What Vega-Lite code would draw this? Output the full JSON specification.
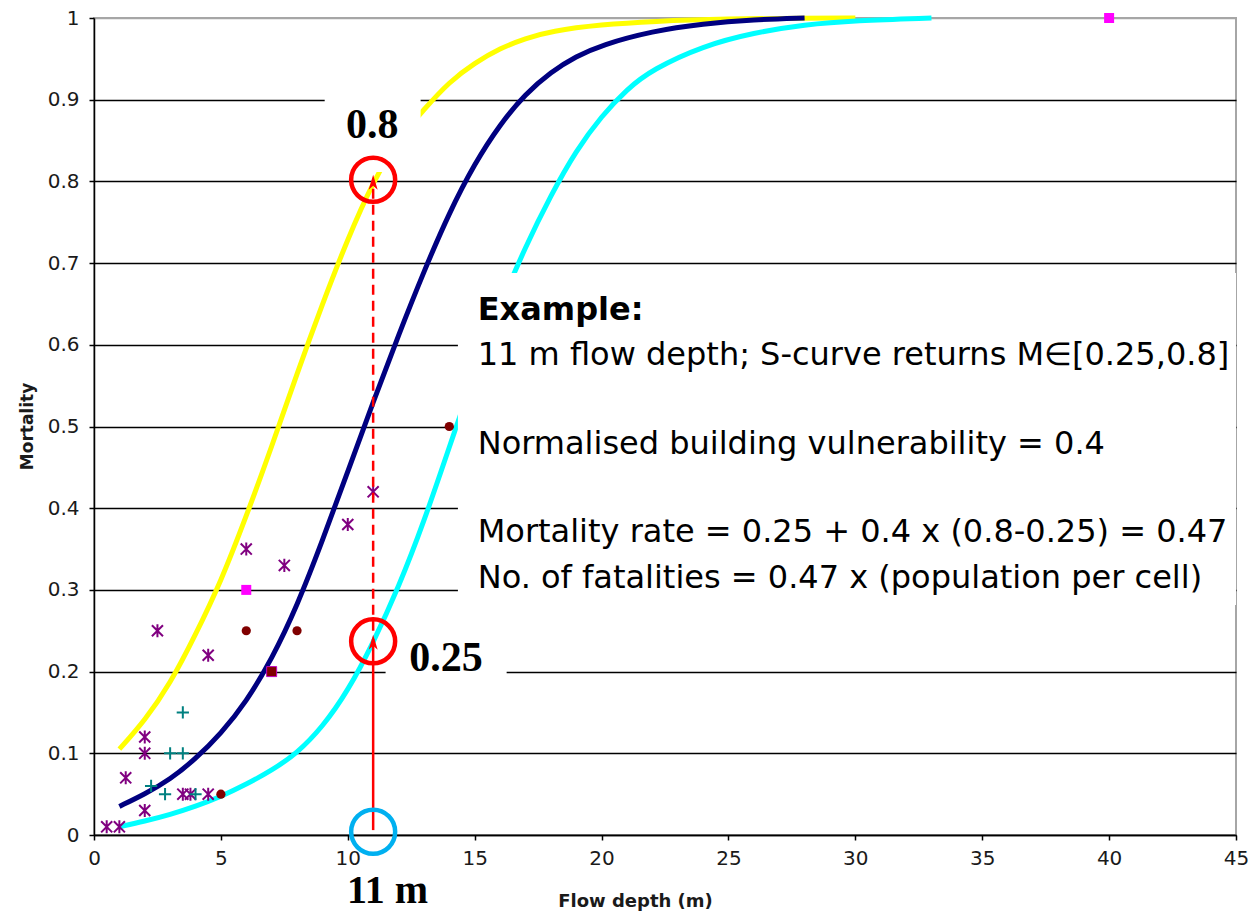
{
  "$schema": "https://vega.github.io/schema/vega-lite/v6.json",
  "width": 1142,
  "height": 817,
  "autosize": "none",
  "padding": {"left": 94, "top": 18, "right": 20, "bottom": 80},
  "background": "white",
  "config": {"view": {"stroke": "#a6a6a6", "strokeWidth": 2}},
  "datasets": {
    "curves": [
      {"series": "yellow", "x": 1, "y": 0.105}, {"series": "yellow", "x": 2, "y": 0.14}, {"series": "yellow", "x": 3, "y": 0.185},
      {"series": "yellow", "x": 4, "y": 0.245}, {"series": "yellow", "x": 5, "y": 0.31}, {"series": "yellow", "x": 6, "y": 0.39},
      {"series": "yellow", "x": 7, "y": 0.475}, {"series": "yellow", "x": 8, "y": 0.565}, {"series": "yellow", "x": 9, "y": 0.65},
      {"series": "yellow", "x": 10, "y": 0.73}, {"series": "yellow", "x": 11, "y": 0.8}, {"series": "yellow", "x": 12, "y": 0.852},
      {"series": "yellow", "x": 13, "y": 0.888}, {"series": "yellow", "x": 14, "y": 0.922}, {"series": "yellow", "x": 15, "y": 0.945},
      {"series": "yellow", "x": 16, "y": 0.963}, {"series": "yellow", "x": 17, "y": 0.975}, {"series": "yellow", "x": 18, "y": 0.984},
      {"series": "yellow", "x": 20, "y": 0.992}, {"series": "yellow", "x": 22, "y": 0.996}, {"series": "yellow", "x": 25, "y": 0.999},
      {"series": "yellow", "x": 28, "y": 1.0}, {"series": "yellow", "x": 30, "y": 1.0},
      {"series": "navy", "x": 1, "y": 0.035}, {"series": "navy", "x": 2, "y": 0.05}, {"series": "navy", "x": 3, "y": 0.068},
      {"series": "navy", "x": 4, "y": 0.093}, {"series": "navy", "x": 5, "y": 0.124}, {"series": "navy", "x": 6, "y": 0.163},
      {"series": "navy", "x": 7, "y": 0.215}, {"series": "navy", "x": 8, "y": 0.28}, {"series": "navy", "x": 9, "y": 0.36},
      {"series": "navy", "x": 10, "y": 0.445}, {"series": "navy", "x": 11, "y": 0.53}, {"series": "navy", "x": 12, "y": 0.612},
      {"series": "navy", "x": 13, "y": 0.69}, {"series": "navy", "x": 14, "y": 0.762}, {"series": "navy", "x": 15, "y": 0.822},
      {"series": "navy", "x": 16, "y": 0.87}, {"series": "navy", "x": 17, "y": 0.907}, {"series": "navy", "x": 18, "y": 0.934},
      {"series": "navy", "x": 19, "y": 0.953}, {"series": "navy", "x": 20, "y": 0.967}, {"series": "navy", "x": 22, "y": 0.984},
      {"series": "navy", "x": 24, "y": 0.993}, {"series": "navy", "x": 26, "y": 0.998}, {"series": "navy", "x": 28, "y": 1.0},
      {"series": "cyan", "x": 1, "y": 0.01}, {"series": "cyan", "x": 2, "y": 0.017}, {"series": "cyan", "x": 3, "y": 0.025},
      {"series": "cyan", "x": 4, "y": 0.035}, {"series": "cyan", "x": 5, "y": 0.047}, {"series": "cyan", "x": 6, "y": 0.062},
      {"series": "cyan", "x": 7, "y": 0.079}, {"series": "cyan", "x": 8, "y": 0.1}, {"series": "cyan", "x": 9, "y": 0.132},
      {"series": "cyan", "x": 10, "y": 0.176}, {"series": "cyan", "x": 11, "y": 0.235}, {"series": "cyan", "x": 12, "y": 0.303},
      {"series": "cyan", "x": 13, "y": 0.383}, {"series": "cyan", "x": 14, "y": 0.475}, {"series": "cyan", "x": 15, "y": 0.565},
      {"series": "cyan", "x": 16, "y": 0.648}, {"series": "cyan", "x": 17, "y": 0.72}, {"series": "cyan", "x": 18, "y": 0.783},
      {"series": "cyan", "x": 19, "y": 0.838}, {"series": "cyan", "x": 20, "y": 0.88}, {"series": "cyan", "x": 21, "y": 0.913},
      {"series": "cyan", "x": 22, "y": 0.937}, {"series": "cyan", "x": 24, "y": 0.966}, {"series": "cyan", "x": 26, "y": 0.982},
      {"series": "cyan", "x": 28, "y": 0.992}, {"series": "cyan", "x": 30, "y": 0.997}, {"series": "cyan", "x": 33, "y": 1.0}
    ],
    "points": [
      {"type": "star", "x": 0.5, "y": 0.01}, {"type": "star", "x": 1, "y": 0.01}, {"type": "star", "x": 1.25, "y": 0.07},
      {"type": "star", "x": 2, "y": 0.03}, {"type": "star", "x": 2, "y": 0.1}, {"type": "star", "x": 2, "y": 0.12},
      {"type": "star", "x": 2.5, "y": 0.25}, {"type": "star", "x": 3.5, "y": 0.05}, {"type": "star", "x": 3.8, "y": 0.05},
      {"type": "star", "x": 4.5, "y": 0.05}, {"type": "star", "x": 4.5, "y": 0.22}, {"type": "star", "x": 6, "y": 0.35},
      {"type": "star", "x": 7.5, "y": 0.33}, {"type": "star", "x": 10, "y": 0.38}, {"type": "star", "x": 11, "y": 0.42},
      {"type": "plus", "x": 2.25, "y": 0.06}, {"type": "plus", "x": 2.8, "y": 0.05}, {"type": "plus", "x": 3, "y": 0.1},
      {"type": "plus", "x": 3.5, "y": 0.1}, {"type": "plus", "x": 3.5, "y": 0.15}, {"type": "plus", "x": 4, "y": 0.05},
      {"type": "dot", "x": 5, "y": 0.05}, {"type": "dot", "x": 6, "y": 0.25}, {"type": "dot", "x": 8, "y": 0.25},
      {"type": "dot", "x": 14, "y": 0.5},
      {"type": "darksquare", "x": 7, "y": 0.2},
      {"type": "magenta", "x": 6, "y": 0.3}, {"type": "magenta", "x": 40, "y": 1.0}
    ],
    "boxes": [
      {"x": 9.09, "x2": 12.87, "y": 0.8115, "y2": 0.92},
      {"x": 11.49, "x2": 16.26, "y": 0.171, "y2": 0.248},
      {"x": 14.34, "x2": 45, "y": 0.2815, "y2": 0.688}
    ],
    "rings": [
      {"ring": "red", "x": 11, "y": 0.802},
      {"ring": "red", "x": 11, "y": 0.237},
      {"ring": "blue", "x": 11, "y": 0.004}
    ],
    "arrows": [
      {"x": 11, "y": 0.245},
      {"x": 11, "y": 0.808}
    ]
  },
  "encoding": {
    "x": {
      "field": "x", "type": "quantitative",
      "scale": {"domain": [0, 45], "nice": false, "zero": false},
      "axis": {
        "title": "Flow depth (m)",
        "values": [0, 5, 10, 15, 20, 25, 30, 35, 40, 45],
        "format": "d",
        "grid": false,
        "domainColor": "#000000", "domainWidth": 1.5,
        "tickColor": "#000000", "tickSize": 5, "tickWidth": 1.5,
        "labelFont": "DejaVu Sans", "labelFontSize": 20, "labelColor": "#1a1a1a", "labelPadding": 8,
        "labelFlush": false,
        "titleFont": "DejaVu Sans", "titleFontSize": 18, "titleFontWeight": "bold", "titleColor": "#1a1a1a",
        "titleX": 541, "titleY": 66, "titleAlign": "center", "titleBaseline": "middle"
      }
    },
    "y": {
      "field": "y", "type": "quantitative",
      "scale": {"domain": [0, 1], "nice": false, "zero": false},
      "axis": {
        "title": "Mortality",
        "values": [0, 0.1, 0.2, 0.3, 0.4, 0.5, 0.6, 0.7, 0.8, 0.9, 1],
        "format": "~g",
        "grid": true,
        "gridColor": {"condition": {"test": "datum.value === 1", "value": "#a6a6a6"}, "value": "#000000"},
        "gridWidth": 1.5,
        "domainColor": "#000000", "domainWidth": 1.5,
        "tickColor": "#000000", "tickSize": 5, "tickWidth": 1.5,
        "labelFont": "DejaVu Sans", "labelFontSize": 20, "labelColor": "#1a1a1a", "labelPadding": 10,
        "labelFlush": false,
        "titleFont": "DejaVu Sans", "titleFontSize": 17, "titleFontWeight": "bold", "titleColor": "#1a1a1a",
        "titleX": -67, "titleY": 408, "titleAngle": -90, "titleAlign": "center", "titleBaseline": "middle"
      }
    }
  },
  "layer": [
    {
      "data": {"name": "curves"},
      "mark": {"type": "line", "strokeWidth": 5, "interpolate": "basis"},
      "encoding": {
        "color": {"field": "series", "type": "nominal", "legend": null,
          "scale": {"domain": ["yellow", "navy", "cyan"], "range": ["#ffff00", "#000080", "#00ffff"]}}
      }
    },
    {
      "data": {"name": "points"},
      "transform": [{"filter": "datum.type === 'star'"}],
      "mark": {"type": "point", "shape": "M0,-1L0,1M-0.85,-0.85L0.85,0.85M-0.85,0.85L0.85,-0.85", "filled": false, "stroke": "#800080", "strokeWidth": 2, "size": 170, "opacity": 1}
    },
    {
      "data": {"name": "points"},
      "transform": [{"filter": "datum.type === 'plus'"}],
      "mark": {"type": "point", "shape": "M-1,0L1,0M0,-1L0,1", "filled": false, "stroke": "#008080", "strokeWidth": 2, "size": 150, "opacity": 1}
    },
    {
      "data": {"name": "points"},
      "transform": [{"filter": "datum.type === 'dot'"}],
      "mark": {"type": "point", "shape": "circle", "filled": true, "color": "#800000", "size": 85, "opacity": 1}
    },
    {
      "data": {"name": "points"},
      "transform": [{"filter": "datum.type === 'darksquare'"}],
      "mark": {"type": "point", "shape": "square", "filled": true, "fill": "#800000", "stroke": "#c000c0", "strokeWidth": 1, "size": 100, "opacity": 1}
    },
    {
      "data": {"name": "points"},
      "transform": [{"filter": "datum.type === 'magenta'"}],
      "mark": {"type": "point", "shape": "square", "filled": true, "color": "#ff00ff", "size": 100, "opacity": 1}
    },
    {
      "data": {"name": "boxes"},
      "mark": {"type": "rect", "color": "#ffffff", "strokeWidth": 0},
      "encoding": {"x2": {"field": "x2"}, "y2": {"field": "y2"}}
    },
    {
      "data": {"values": [{"x": 11, "y": 0.006, "y2": 0.24}]},
      "mark": {"type": "rule", "color": "#ff0000", "strokeWidth": 2.5},
      "encoding": {"y2": {"field": "y2"}}
    },
    {
      "data": {"values": [{"x": 11, "y": 0.25, "y2": 0.8}]},
      "mark": {"type": "rule", "color": "#ff0000", "strokeWidth": 2.5, "strokeDash": [10, 6]},
      "encoding": {"y2": {"field": "y2"}}
    },
    {
      "data": {"name": "arrows"},
      "mark": {"type": "point", "shape": "M0,0L0.9,3L0,2.2L-0.9,3Z", "filled": true, "color": "#ff0000", "size": 100, "opacity": 1}
    },
    {
      "data": {"name": "rings"},
      "mark": {"type": "point", "shape": "circle", "filled": false, "strokeWidth": 4.5, "size": 1936, "opacity": 1},
      "encoding": {
        "stroke": {"field": "ring", "type": "nominal", "legend": null,
          "scale": {"domain": ["red", "blue"], "range": ["#ff0000", "#00b0f0"]}}
      }
    },
    {
      "data": {"values": [
        {"x": 10.96, "y": 0.869, "label": "0.8"},
        {"x": 13.87, "y": 0.2167, "label": "0.25"}
      ]},
      "mark": {"type": "text", "font": "Liberation Serif", "fontWeight": "bold", "fontSize": 42, "align": "center", "baseline": "middle", "color": "#000000"},
      "encoding": {"text": {"field": "label"}}
    },
    {
      "data": {"values": [
        {"x": 11.57, "y": -0.0685, "label": "11 m"}
      ]},
      "mark": {"type": "text", "font": "Liberation Serif", "fontWeight": "bold", "fontSize": 40, "align": "center", "baseline": "middle", "color": "#000000"},
      "encoding": {"text": {"field": "label"}}
    },
    {
      "data": {"values": [{"x": 15.12, "y": 0.6426, "label": "Example:"}]},
      "mark": {"type": "text", "font": "DejaVu Sans", "fontWeight": "bold", "fontSize": 32, "align": "left", "baseline": "middle", "color": "#000000"},
      "encoding": {"text": {"field": "label"}}
    },
    {
      "data": {"values": [
        {"x": 15.12, "y": 0.5875, "label": "11 m flow depth; S-curve returns M∈[0.25,0.8]"},
        {"x": 15.12, "y": 0.4786, "label": "Normalised building vulnerability = 0.4"},
        {"x": 15.12, "y": 0.3709, "label": "Mortality rate = 0.25 + 0.4 x (0.8-0.25) = 0.47"},
        {"x": 15.12, "y": 0.3146, "label": "No. of fatalities = 0.47 x (population per cell)"}
      ]},
      "mark": {"type": "text", "font": "DejaVu Sans", "fontSize": 32, "align": "left", "baseline": "middle", "color": "#000000"},
      "encoding": {"text": {"field": "label"}}
    }
  ]
}
